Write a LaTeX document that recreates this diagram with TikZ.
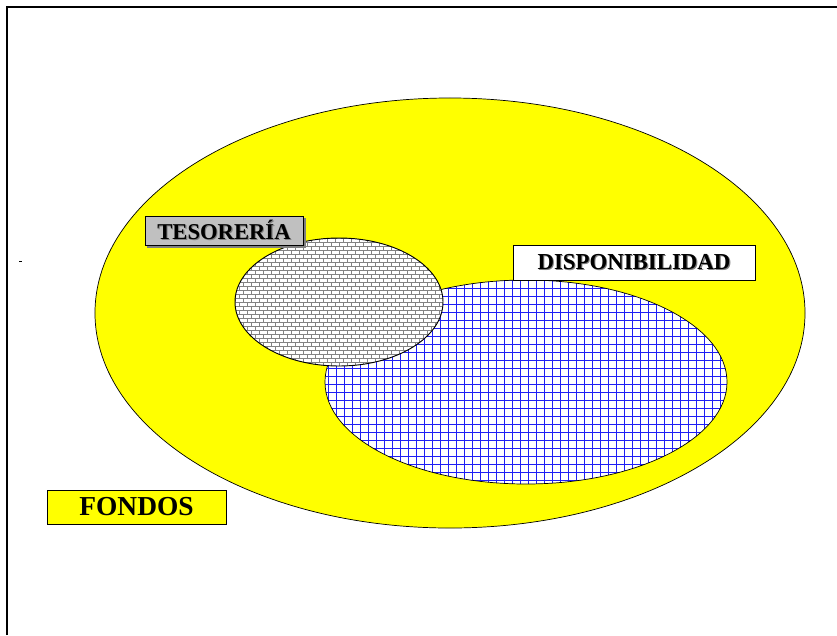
\documentclass[tikz,border=0pt]{standalone}
\usepackage{fontspec}
\setmainfont{Liberation Serif}
\usepackage{tikz}

\definecolor{fondoyellow}{RGB}{255,255,0}
\definecolor{gridblue}{RGB}{30,30,245}
\definecolor{brickgray}{RGB}{130,130,130}
\definecolor{boxgray}{RGB}{192,192,192}

\newcommand{\shadowed}[1]{\leavevmode\rlap{\hspace{0.9pt}\raisebox{-0.9pt}{\color{gray}#1}}#1}

\tikzset{
  labelbox/.style={draw=black, line width=0.6pt, inner sep=0pt, font=\bfseries},
}

\begin{document}
\begin{tikzpicture}[x=0.03cm, y=-0.03cm]
\useasboundingbox (0,0) rectangle (837,635);

% frame
\draw[line width=1.7pt] (7,635) -- (7,7) -- (837,7);
\draw[line width=0.5pt] (19,261) -- (22,261);

% fondos
\draw[fill=fondoyellow, line width=0.6pt] (450,313) ellipse (10.65cm and 6.45cm);

% disponibilidad
\fill[white] (526,382) ellipse (6.03cm and 3.06cm);
\begin{scope}
\clip (526,382) ellipse (6.03cm and 3.06cm);
\draw[gridblue, line width=0.85pt, step=0.24cm] (320,276) grid (732,488);
\end{scope}
\draw[line width=0.6pt] (526,382) ellipse (6.03cm and 3.06cm);

% tesoreria
\fill[white] (339,302) ellipse (3.12cm and 1.92cm);
\begin{scope}
\clip (339,302) ellipse (3.12cm and 1.92cm);
\foreach \r [evaluate=\r as \yy using 238+4*\r, evaluate=\r as \sh using {mod(\r,2)*4}] in {0,...,32} {
  \draw[brickgray, line width=0.55pt] (235,\yy) -- (443,\yy);
  \foreach \c in {0,...,26}
    \draw[brickgray, line width=0.55pt] (231+8*\c+\sh,\yy) -- ++(0,4);
}
\end{scope}
\draw[line width=0.8pt] (339,302) ellipse (3.12cm and 1.92cm);

% labels
\fill[gray] (147,218) rectangle (305.5,247.5);
\node[labelbox, fill=boxgray, minimum width=4.74cm, minimum height=0.87cm,
  font=\bfseries\fontsize{19.3}{22}\selectfont] (tesoreria) at (224,230.5) {\shadowed{TESORERÍA}};
\node[labelbox, fill=white, minimum width=7.26cm, minimum height=1.05cm,
  font=\bfseries\fontsize{19.5}{22}\selectfont] (disponibilidad) at (634,262.5) {\shadowed{DISPONIBILIDAD}};
\node[labelbox, fill=fondoyellow, minimum width=5.37cm, minimum height=1.02cm,
  font=\bfseries\fontsize{23.4}{26}\selectfont] (fondos) at (136.5,507) {FONDOS};
\end{tikzpicture}
\end{document}
